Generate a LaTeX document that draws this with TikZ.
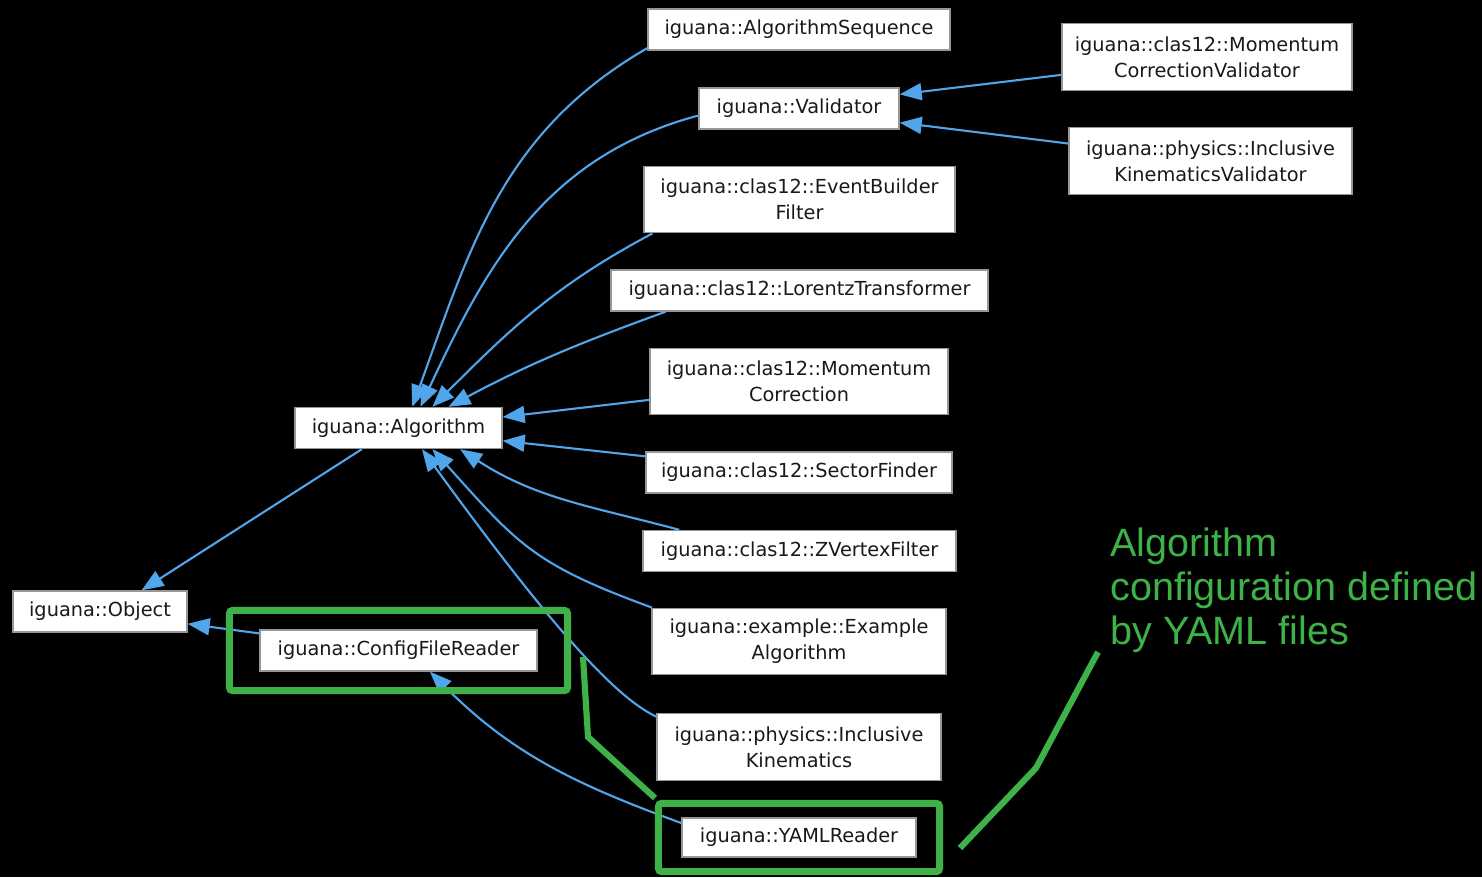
\documentclass[tikz,border=0pt]{standalone}
\usepackage{fontspec}
\setmainfont{DejaVu Sans}
\newfontfamily\notefont{Liberation Sans}
\usepackage{tikz}
\usetikzlibrary{arrows.meta, positioning, fit}
\definecolor{EdgeBlue}{RGB}{80,165,235}
\definecolor{NoteGreen}{RGB}{62,178,72}
\definecolor{BoxGray}{RGB}{150,150,150}
\definecolor{TextGray}{RGB}{25,25,25}

\begin{document}
\begin{tikzpicture}[x=0.02cm, y=0.02cm,
    every node/.style={font=\fontsize{11}{14.8}\selectfont},
    cls/.style={draw=BoxGray, line width=0.8pt, fill=white, text=TextGray, align=center, inner sep=2pt, minimum height=0.82cm},
    twoline/.style={minimum height=1.33cm},
    inherit/.style={-{Triangle[length=0.44cm, width=0.34cm]}, draw=EdgeBlue, line width=1.2pt},
    frame/.style={draw=NoteGreen, line width=4pt, rounded corners=2pt},
    pointer/.style={draw=NoteGreen, line width=3.5pt},
    note/.style={font=\notefont\fontsize{22.5}{24.8}\selectfont, text=NoteGreen, align=left, inner sep=0pt}]
    \useasboundingbox (0,0) rectangle (1482,877);
    \fill[black] (0,0) rectangle (1482,877);

    % class boxes
    \node[cls, minimum width=6.04cm] (algseq) at (799,847.5) {iguana::AlgorithmSequence};
    \node[cls, minimum width=4.0cm] (validator) at (799,768.5) {iguana::Validator};
    \node[cls, twoline, minimum width=5.8cm] (momval) at (1207,820) {iguana::clas12::Momentum\\CorrectionValidator};
    \node[cls, twoline, minimum width=5.66cm] (inclval) at (1210.5,716) {iguana::physics::Inclusive\\KinematicsValidator};
    \node[cls, twoline, minimum width=6.22cm] (ebfilter) at (799.5,677.5) {iguana::clas12::EventBuilder\\Filter};
    \node[cls, minimum width=7.54cm] (lorentz) at (799.5,586.5) {iguana::clas12::LorentzTransformer};
    \node[cls, twoline, minimum width=5.96cm] (momcorr) at (799,495.5) {iguana::clas12::Momentum\\Correction};
    \node[cls, minimum width=4.14cm] (algorithm) at (398.5,449) {iguana::Algorithm};
    \node[cls, minimum width=6.12cm] (sector) at (799,404.5) {iguana::clas12::SectorFinder};
    \node[cls, minimum width=6.26cm] (zvertex) at (799.5,326) {iguana::clas12::ZVertexFilter};
    \node[cls, twoline, minimum width=5.88cm] (example) at (799,235.5) {iguana::example::Example\\Algorithm};
    \node[cls, minimum width=3.48cm] (object) at (100,265.5) {iguana::Object};
    \node[cls, minimum width=5.54cm] (config) at (398.5,226.5) {iguana::ConfigFileReader};
    \node[cls, twoline, minimum width=5.68cm] (inclkin) at (799,130) {iguana::physics::Inclusive\\Kinematics};
    \node[cls, minimum width=4.68cm, minimum height=0.78cm] (yaml) at (799,39.5) {iguana::YAMLReader};

    % inheritance
    \draw[inherit] (algseq.187) to[out=210, in=70] (algorithm.57);
    \draw[inherit] (validator.184) to[out=195, in=65] (algorithm.44);
    \draw[inherit] (ebfilter.193) to[out=208, in=45] (algorithm.32);
    \draw[inherit] (lorentz.189) to[out=200, in=28] (algorithm.23);
    \draw[inherit] (momcorr.187) -- (algorithm.6);
    \draw[inherit] (sector.174) -- (algorithm.-7);
    \draw[inherit] (zvertex.170) to[out=165, in=-33] (algorithm.-19);
    \draw[inherit] (example.167) to[out=160, in=-48, looseness=1.2] (algorithm.-32);
    \draw[inherit] (inclkin.168) to[out=155, in=-54, out distance=1cm, in distance=4cm] (algorithm.-42);
    \draw[inherit] (momval.187) -- (validator.8);
    \draw[inherit] (inclval.173) -- (validator.-8);
    \draw[inherit] (algorithm.-150) -- (object.27);
    \draw[inherit] (config.173) -- (object.-8);
    \draw[inherit] (yaml.173) to[out=160, in=-45] (config.-34);

    % annotation
    \node[frame, fit=(config), inner xsep=0.6cm, inner ysep=0.38cm] (cfgframe) {};
    \node[frame, fit=(yaml), inner xsep=0.46cm, inner ysep=0.28cm] (yamlframe) {};
    \node[note, anchor=north west] (note) at (1110,349) {Algorithm\\configuration defined\\by YAML files};
    \coordinate (cfgend) at (583,220);
    \coordinate (kneeA) at (588,140);
    \coordinate (yamlend) at (655,79);
    \coordinate (yamlside) at (960,29);
    \coordinate (kneeB) at (1036,109);
    \coordinate (noteend) at (1098,225);
    \draw[pointer] (cfgend) -- (kneeA) -- (yamlend);
    \draw[pointer] (yamlside) -- (kneeB) -- (noteend);
\end{tikzpicture}
\end{document}
